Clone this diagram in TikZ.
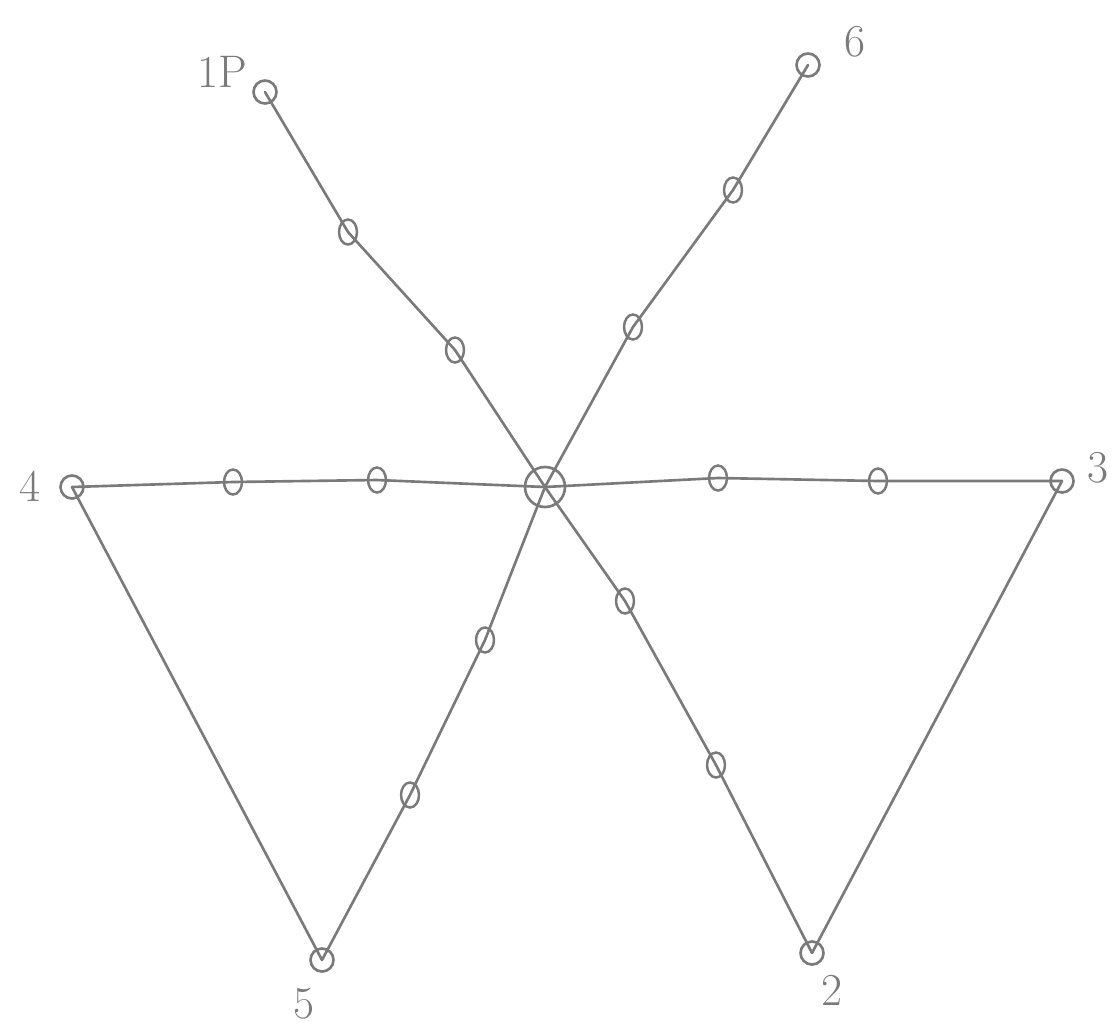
\documentclass[tikz,border=0pt]{standalone}
\usetikzlibrary{shapes.geometric}
\definecolor{pencil}{HTML}{7A7A7A}

\begin{document}
\begin{tikzpicture}[
  x=0.02cm,
  y=-0.02cm,
  every node/.style={pencil},
  stroke/.style={pencil, line width=1.5pt, line cap=round, line join=round},
  endring/.style={draw=pencil, line width=1.5pt, circle, inner sep=0pt, minimum size=0.46cm},
  midring/.style={draw=pencil, line width=1.4pt, ellipse, inner sep=0pt,
                  minimum width=0.36cm, minimum height=0.5cm},
  hubring/.style={draw=pencil, line width=1.5pt, circle, inner sep=0pt, minimum size=0.8cm},
  tag/.style={font=\fontsize{26}{30}\selectfont, text=pencil}
]
  % ---- bounding box ----
  \useasboundingbox (0,0) rectangle (1119,1032);

  % ---- end points and hub ----
  \node[endring] (p1) at (265,92) {};
  \node[endring] (p6) at (808,65) {};
  \node[endring] (p4) at (72,487) {};
  \node[endring] (p3) at (1062,481) {};
  \node[endring] (p5) at (322,960) {};
  \node[endring] (p2) at (812,953) {};
  \node[hubring] (hub) at (545,487) {};

  % ---- intermediate rings ----
  \node[midring] (a1) at (348,232) {};
  \node[midring] (a2) at (455,350) {};
  \node[midring] (b1) at (733,190) {};
  \node[midring] (b2) at (633,327) {};
  \node[midring] (c1) at (233,482) {};
  \node[midring] (c2) at (377,480) {};
  \node[midring] (d1) at (718,478) {};
  \node[midring] (d2) at (878,481) {};
  \node[midring] (e1) at (625,601) {};
  \node[midring] (e2) at (716,765) {};
  \node[midring] (f1) at (485,640) {};
  \node[midring] (f2) at (410,795) {};

  % ---- strokes through the rings ----
  \draw[stroke] (p1.center) -- (a1.center) -- (a2.center) -- (hub.center)
    -- (e1.center) -- (e2.center) -- (p2.center);
  \draw[stroke] (p6.center) -- (b1.center) -- (b2.center) -- (hub.center)
    -- (f1.center) -- (f2.center) -- (p5.center);
  \draw[stroke] (p4.center) -- (c1.center) -- (c2.center) -- (hub.center)
    -- (d1.center) -- (d2.center) -- (p3.center);
  \draw[stroke] (p4.center) -- (p5.center);
  \draw[stroke] (p3.center) -- (p2.center);

  % ---- labels ----
  \node[tag] (l1) at (222,72) {1P};
  \node[tag] (l6) at (855,42) {6};
  \node[tag] (l4) at (30,486) {4};
  \node[tag] (l3) at (1098,468) {3};
  \node[tag] (l5) at (304,1004) {5};
  \node[tag] (l2) at (832,990) {2};
\end{tikzpicture}
\end{document}
